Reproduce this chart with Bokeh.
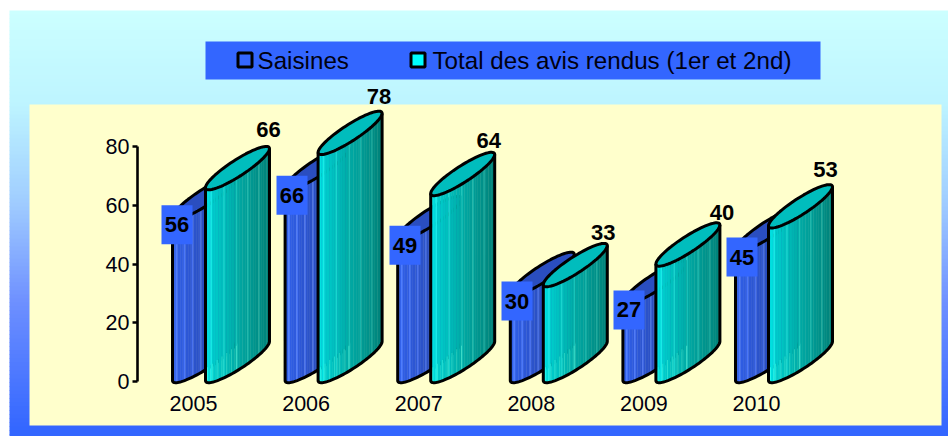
from bokeh.plotting import figure
from bokeh.models import LinearAxis, FixedTicker, Range1d
from bokeh.core.properties import value
from bokeh.embed import file_html
from bokeh.resources import INLINE
import numpy as np

years = ["2005", "2006", "2007", "2008", "2009", "2010"]
saisines = [56, 66, 49, 30, 27, 45]
avis = [66, 78, 64, 33, 40, 53]
legend_names = ["Saisines", "Total des avis rendus (1er et 2nd)"]
y_ticks = [0, 20, 40, 60, 80]

FONT = value("Liberation Sans")
W, H = 948, 436
X0, STEP = 193.0, 112.6      # page px of category 0, px per category
Y0, UNIT = 381.0, 235 / 80   # page px of value 0, px per value unit

def xd(px): return (np.asarray(px, dtype=float) - X0) / STEP
def yd(py): return (Y0 - np.asarray(py, dtype=float)) / UNIT

p = figure(width=W, height=H, output_backend="svg", toolbar_location=None,
           x_range=Range1d(float(xd(0)), float(xd(948))), y_range=Range1d(float(yd(436)), float(yd(0))),
           x_axis_location=None, y_axis_location=None, min_border=0, outline_line_color=None,
           background_fill_color="white", border_fill_color="white")
p.grid.visible = False

# page background gradient
stops_y = [10, 100, 200, 300, 430]
stops_c = [(204, 255, 255), (190, 245, 255), (160, 205, 255), (110, 144, 255), (51, 102, 255)]
ys = np.arange(10, 436, 4.0)
cols = ["#%02x%02x%02x" % tuple(int(np.interp(y, stops_y, [c[k] for c in stops_c])) for k in range(3)) for y in ys]
p.quad(left=float(xd(9)), right=float(xd(948)), top=yd(ys), bottom=yd(np.minimum(ys + 4.6, 436)), fill_color=cols, line_color=None)

# chart panel and legend panel
p.quad(left=float(xd(29)), right=float(xd(941)), top=float(yd(104)), bottom=float(yd(425)), fill_color="#FFFFCC", line_color=None)
p.quad(left=float(xd(205)), right=float(xd(820)), top=float(yd(41)), bottom=float(yd(79)), fill_color="#3366FF", line_color=None)
p.quad(left=float(xd(237.5)), right=float(xd(251.5)), top=float(yd(52.5)), bottom=float(yd(66.5)), fill_color="#3366FF", line_color="black", line_width=3)
p.quad(left=float(xd(410.5)), right=float(xd(424.5)), top=float(yd(52.5)), bottom=float(yd(66.5)), fill_color="#00FFFF", line_color="black", line_width=3)
p.text(x=[float(xd(257)), float(xd(432))], y=[float(yd(59.5))] * 2, text=legend_names, text_font=FONT, text_font_size="24.2px",
       text_baseline="middle", text_align="left", text_color="#000010")

CW = 64.0   # column width px
RISE = 19.5 # half rise px of the tilted section
K = 9.5     # half thickness px of the section
LW = 3.0
BASE = Y0 - 1.0

def lower_arc(x0, base_py, n):
    t = np.linspace(0, np.pi, n)
    return x0 + CW / 2 - CW / 2 * np.cos(t), base_py - RISE + RISE * np.cos(t) + K * np.sin(t)

def arc_y_at(px, x0, base_py):
    c = np.clip((x0 + CW / 2 - px) / (CW / 2), -1, 1)
    return base_py - RISE + RISE * c + K * np.sqrt(1 - c * c)

def hexc(rgb):
    return "#%02x%02x%02x" % tuple(int(min(255, v)) for v in rgb)

def column(x0, val, ramp_x, ramp_c, light, top_color, accent, foot):
    top_py = Y0 - val * UNIT
    n = 40
    edges = np.linspace(x0, x0 + CW, n + 1)
    xs, yy, cs = [], [], []
    fx, fy, fc = [], [], []
    for j in range(n):
        a, b = edges[j], min(edges[j + 1] + 0.4, x0 + CW)
        sx = np.linspace(a, b, 3)
        up = arc_y_at(sx, x0, top_py)
        lo = arc_y_at(sx, x0, BASE)
        xs.append(list(xd(np.r_[sx, sx[::-1]])))
        yy.append(list(yd(np.r_[up, lo[::-1]])))
        f = j / (n - 1)
        rgb = [np.interp(f, ramp_x, [c[k] for c in ramp_c]) for k in range(3)]
        if j in light:
            rgb = [v + accent[k] for k, v in enumerate(rgb)]
        cs.append(hexc(rgb))
        # lighter stripes at the foot of the column, under a diagonal
        if foot and j < 22 and j % 3 == 1:
            d = BASE - 12 - 0.75 * (a - x0)
            if d < lo[0] - 1:
                fx.append(list(xd([a, a + 0.9, a + 0.9, a])))
                fy.append(list(yd([d, d, arc_y_at(a + 0.9, x0, BASE), lo[0]])))
                fc.append(hexc([rgb[0] + 40, rgb[1] + 26, rgb[2] + 14]))
    p.patches(xs, yy, fill_color=cs, line_color=None)
    if fx:
        p.patches(fx, fy, fill_color=fc, line_color=None)
    # top section
    t = np.linspace(0, 2 * np.pi, 80)
    ex = x0 + CW / 2 - CW / 2 * np.cos(t)
    ey = top_py - RISE + RISE * np.cos(t) + K * np.sin(t)
    p.patch(xd(ex), yd(ey), fill_color=top_color, line_color="black", line_width=LW)
    # outline
    bx, by = lower_arc(x0, BASE, 50)
    ox = np.r_[x0, bx, x0 + CW]
    oy = np.r_[top_py, by, top_py - 2 * RISE]
    p.line(xd(ox), yd(oy), line_color="black", line_width=LW, line_join="round")

for i in range(len(years)):
    x_blue = X0 + i * STEP - 21
    column(x_blue, saisines[i], [0, 0.5, 1], [(48, 96, 235), (42, 78, 190), (38, 66, 160)], {2, 7, 12, 17},
           "#2A4EC0", (30, 30, 30), False)
for i in range(len(years)):
    x_front = X0 + i * STEP + 12
    column(x_front, avis[i], [0, 0.1, 0.5, 1], [(0, 232, 232), (0, 205, 205), (0, 170, 165), (0, 130, 122)],
           {3, 11, 19, 26, 33},
           "#00BDBD", (24, 24, 20), True)

# blue boxed labels for first series
box_dx = [-16.5, -14.1, -13.7, -14.3, -14.9, -14.5]
box_x = [float(xd(X0 + i * STEP + box_dx[i])) for i in range(len(years))]
box_y = [float(yd(Y0 - v * UNIT + 7.7)) for v in saisines]
p.rect(x=box_x, y=box_y, width=31 / STEP, height=39 / UNIT, fill_color="#3366FF", line_color=None)
p.text(x=box_x, y=box_y, text=[str(v) for v in saisines], text_font=FONT, text_font_size="22px", text_font_style="bold",
       text_align="center", text_baseline="middle", text_color="black")

# labels over second series
dx = [-1, -3, -6, -4, 2, -7]
dy = [-20, -18, -15, -14.5, -13.5, -18]
lab_x = [float(xd(X0 + i * STEP + 12 + CW + dx[i])) for i in range(len(years))]
lab_y = [float(yd(Y0 - avis[i] * UNIT - 38 + dy[i])) for i in range(len(years))]
p.text(x=lab_x, y=lab_y, text=[str(v) for v in avis], text_font=FONT, text_font_size="22px", text_font_style="bold",
       text_align="center", text_baseline="middle", text_color="black")

# axes
ya = LinearAxis(fixed_location=float(xd(137)), bounds=(0, 80), ticker=FixedTicker(ticks=y_ticks))
ya.major_label_text_font = "Liberation Sans"
ya.major_label_text_font_size = "21.5px"
ya.major_label_text_color = "#000010"
ya.major_tick_in = 0
ya.major_tick_out = 5
ya.minor_tick_in = ya.minor_tick_out = 0
ya.axis_line_width = 2.6
ya.major_tick_line_width = 2.6
ya.major_label_standoff = 3
p.add_layout(ya, "left")

xa = LinearAxis(fixed_location=float(yd(381)), ticker=FixedTicker(ticks=list(range(len(years)))),
                major_label_overrides={i: y for i, y in enumerate(years)})
xa.major_label_text_font = "Liberation Sans"
xa.major_label_text_font_size = "21.5px"
xa.major_label_text_color = "#000010"
xa.axis_line_color = None
xa.major_tick_line_color = None
xa.minor_tick_line_color = None
xa.major_label_standoff = 8
p.add_layout(xa, "below")

open("out.html", "w").write(file_html(p, INLINE))
